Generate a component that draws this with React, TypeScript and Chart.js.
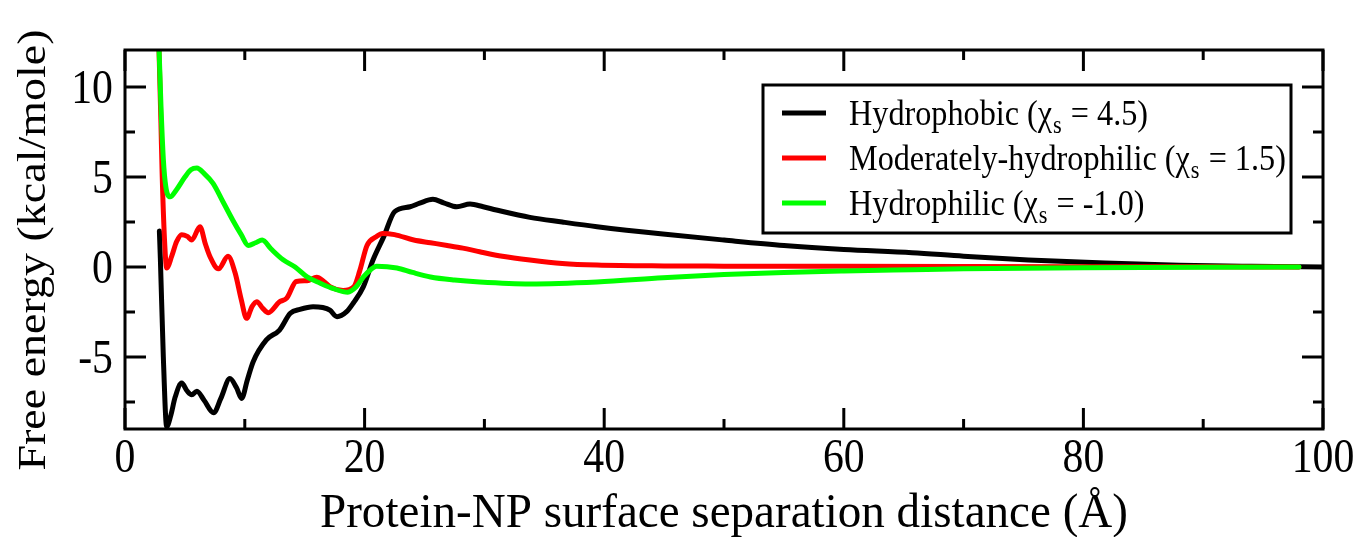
import React, { useEffect, useRef } from "react";
import { Chart, registerables } from "chart.js";

Chart.register(...registerables);

// ---------- data ----------
const xMajorTicks = [0, 20, 40, 60, 80, 100];
const xMinorTicks = [10, 30, 50, 70, 90];
const yMajorTicks = [-5, 0, 5, 10];
const yMinorTicks = [-7.5, -2.5, 2.5, 7.5];
const xTickLabels = ["0", "20", "40", "60", "80", "100"];
const yTickLabels = ["-5", "0", "5", "10"];

const seriesNames = ["Hydrophobic", "Moderately-hydrophilic", "Hydrophilic"];
const chiValues = ["4.5", "1.5", "-1.0"];
const seriesColors = ["#000000", "#ff0000", "#00ff00"];

const hydrophobicX = [
  2.87, 2.95, 3.2, 3.48, 3.8, 4.2, 4.73, 5.2, 5.57, 6.0, 6.6, 7.4, 8.0, 8.76, 9.3, 9.74,
  10.2, 10.7, 11.8, 12.9, 13.8, 14.6, 15.7, 16.5, 17.1, 17.7, 18.5, 19.06, 19.9, 20.7,
  21.6, 22.5, 23.8, 24.6, 25.7, 26.6, 27.7, 28.8, 29.9, 31.0, 33.8, 36.5, 39.4, 44.9,
  50, 55, 60, 65.7, 70, 75.4, 81.8, 88, 94, 100,
];
const hydrophobicY = [
  2.0, 0.5, -5.0, -8.87, -8.3, -7.2, -6.45, -6.9, -7.1, -6.9, -7.4, -8.1, -7.3, -6.2, -6.7, -7.3,
  -6.3, -5.26, -4.05, -3.5, -2.57, -2.35, -2.2, -2.25, -2.4, -2.76, -2.48, -2.0, -1.09, 0.39,
  1.69, 3.07, 3.35, 3.55, 3.76, 3.57, 3.35, 3.5, 3.35, 3.17, 2.76, 2.5, 2.24, 1.83,
  1.5, 1.2, 0.98, 0.8, 0.6, 0.39, 0.22, 0.1, 0.04, 0.0,
];

const moderateX = [
  2.8, 3.0, 3.1, 3.3, 3.48, 3.9, 4.3, 4.73, 5.2, 5.57, 6.26, 6.7, 7.1, 7.8, 8.6, 9.2, 9.7,
  10.15, 10.6, 11.0, 11.5, 11.96, 12.9, 13.5, 14.3, 15.2, 16.0, 16.6, 17.1, 18.2, 19.1,
  19.6, 20.2, 21.0, 21.5, 22.5, 24.1, 25.5, 26.9, 28.2, 29.6, 31.5, 33.8, 36.5, 39.4,
  45, 50, 60, 70, 80, 90, 98,
];
const moderateY = [
  13, 8, 5.2, 1.5, -0.05, 0.6, 1.4, 1.8, 1.7, 1.5, 2.24, 1.3, 0.57, -0.1, 0.6, -0.35, -1.8,
  -2.85, -2.2, -1.93, -2.3, -2.54, -1.93, -1.73, -0.8, -0.76, -0.57, -0.8, -1.09, -1.3, -1.1,
  -0.2, 1.2, 1.7, 1.87, 1.8, 1.5, 1.35, 1.2, 1.05, 0.85, 0.6, 0.39, 0.2, 0.11,
  0.06, 0.05, 0.04, 0.03, 0.02, 0.01, 0.0,
];

const hydrophilicX = [
  2.8, 3.0, 3.2, 3.4, 3.76, 4.3, 5.0, 5.5, 6.0, 6.6, 7.35, 8.2, 9.0, 9.7, 10.3, 10.9, 11.45,
  12.2, 13.2, 14.2, 15.2, 16.3, 17.4, 18.6, 19.3, 19.9, 20.5, 21.0, 22.7, 24, 25.5, 27.5,
  29.6, 33.8, 39.4, 44.9, 50, 55, 60, 65.7, 70, 80, 90, 98,
];
const hydrophilicY = [
  13, 9, 6, 4.5, 3.9, 4.3, 5.0, 5.4, 5.5, 5.2, 4.65, 3.6, 2.6, 1.8, 1.2, 1.35, 1.5,
  1.0, 0.4, 0.0, -0.55, -0.9, -1.2, -1.4, -1.1, -0.55, -0.15, 0.05, -0.05, -0.3, -0.55, -0.72,
  -0.83, -0.94, -0.83, -0.6, -0.42, -0.3, -0.22, -0.15, -0.1, -0.04, -0.01, 0,
];

const xTitle = "Protein-NP surface separation distance (Å)";
const yTitle = "Free energy (kcal/mole)";

// ---------- helpers ----------
const FONT = '"Liberation Serif", "Times New Roman", serif';
const CONDENSE = 0.87;
const LEGEND_CONDENSE = 0.895;

function pts(xs: number[], ys: number[]) {
  return xs.map((x, i) => ({ x, y: ys[i] }));
}

function drawText(
  ctx: CanvasRenderingContext2D,
  text: string,
  x: number,
  y: number,
  size: number,
  align: "left" | "center" | "right",
  sx: number = CONDENSE
) {
  ctx.save();
  ctx.font = `${size}px ${FONT}`;
  ctx.textBaseline = "alphabetic";
  ctx.textAlign = "left";
  const w = ctx.measureText(text).width * sx;
  let left = x;
  if (align === "center") left = x - w / 2;
  if (align === "right") left = x - w;
  ctx.translate(left, y);
  ctx.scale(sx, 1);
  ctx.fillStyle = "#000";
  ctx.fillText(text, 0, 0);
  ctx.restore();
  return w;
}

const framePlugin = {
  id: "xmgraceFrame",
  afterDraw(chart: any) {
    const ctx: CanvasRenderingContext2D = chart.ctx;
    const { left, right, top, bottom } = chart.chartArea;
    const xs = chart.scales.x;
    const ys = chart.scales.y;
    ctx.save();
    ctx.strokeStyle = "#000";
    ctx.lineWidth = 3;
    ctx.lineCap = "butt";
    ctx.strokeRect(left, top, right - left, bottom - top);

    const major = 21;
    const minor = 10;
    ctx.beginPath();
    const vt = (vals: number[], len: number) => {
      vals.forEach((v) => {
        const px = xs.getPixelForValue(v);
        ctx.moveTo(px, bottom);
        ctx.lineTo(px, bottom - len);
        ctx.moveTo(px, top);
        ctx.lineTo(px, top + len);
      });
    };
    const ht = (vals: number[], len: number) => {
      vals.forEach((v) => {
        const py = ys.getPixelForValue(v);
        ctx.moveTo(left, py);
        ctx.lineTo(left + len, py);
        ctx.moveTo(right, py);
        ctx.lineTo(right - len, py);
      });
    };
    vt(xMajorTicks, major);
    vt(xMinorTicks, minor);
    ht(yMajorTicks, major);
    ht(yMinorTicks, minor);
    ctx.stroke();

    // tick labels
    xMajorTicks.forEach((v, i) => {
      drawText(ctx, xTickLabels[i], xs.getPixelForValue(v), bottom + 43, 48, "center");
    });
    yMajorTicks.forEach((v, i) => {
      drawText(ctx, yTickLabels[i], left - 12, ys.getPixelForValue(v) + 16, 48, "right");
    });

    // axis titles
    ctx.font = `48px ${FONT}`;
    const tw = ctx.measureText(xTitle).width;
    const sxTitle = 808 / tw;
    drawText(ctx, xTitle, (left + right) / 2, 527, 48, "center", sxTitle);

    ctx.save();
    ctx.font = `46px ${FONT}`;
    ctx.textAlign = "center";
    ctx.textBaseline = "alphabetic";
    ctx.fillStyle = "#000";
    ctx.translate(45, 250);
    ctx.scale(CONDENSE, 1);
    ctx.rotate(-Math.PI / 2);
    ctx.fillText(yTitle, 0, 0);
    ctx.restore();

    // legend
    const bx = 763, by = 85, bw = 528, bh = 148;
    ctx.fillStyle = "#fff";
    ctx.fillRect(bx, by, bw, bh);
    ctx.lineWidth = 3;
    ctx.strokeStyle = "#000";
    ctx.strokeRect(bx, by, bw, bh);
    const rowY = [113, 158, 203];
    seriesNames.forEach((name, i) => {
      const y = rowY[i];
      ctx.beginPath();
      ctx.lineWidth = 5;
      ctx.strokeStyle = seriesColors[i];
      ctx.moveTo(782, y);
      ctx.lineTo(826, y);
      ctx.stroke();
      let x = 849;
      const base = y + 12;
      x += drawText(ctx, `${name} (χ`, x, base, 36, "left", LEGEND_CONDENSE);
      x += drawText(ctx, "s", x + 1, base + 8, 25, "left", LEGEND_CONDENSE) + 2;
      drawText(ctx, ` = ${chiValues[i]})`, x, base, 36, "left", LEGEND_CONDENSE);
    });
    ctx.restore();
  },
};

export default function App() {
  const ref = useRef<HTMLCanvasElement | null>(null);
  useEffect(() => {
    if (!ref.current) return;
    const common = {
      borderWidth: 5,
      pointRadius: 0,
      pointHoverRadius: 0,
      fill: false,
      cubicInterpolationMode: "monotone" as const,
      borderJoinStyle: "round" as const,
      borderCapStyle: "round" as const,
      clip: 0,
    };
    const chart = new Chart(ref.current, {
      type: "line",
      data: {
        datasets: [
          { ...common, label: seriesNames[0], data: pts(hydrophobicX, hydrophobicY), borderColor: seriesColors[0], order: 3 },
          { ...common, label: seriesNames[1], data: pts(moderateX, moderateY), borderColor: seriesColors[1], order: 2 },
          { ...common, label: seriesNames[2], data: pts(hydrophilicX, hydrophilicY), borderColor: seriesColors[2], order: 1 },
        ],
      },
      options: {
        responsive: false,
        animation: false,
        devicePixelRatio: 1,
        layout: { padding: { left: 125, right: 40, top: 50, bottom: 108 } },
        scales: {
          x: { type: "linear", min: 0, max: 100, display: false },
          y: { type: "linear", min: -9, max: 12.06, display: false },
        },
        plugins: {
          legend: { display: false },
          tooltip: { enabled: false },
        },
      },
      plugins: [framePlugin],
    });
    return () => chart.destroy();
  }, []);
  return (
    <div style={{ position: "fixed", left: 0, top: 0, width: 1363, height: 537, background: "#fff" }}>
      <canvas ref={ref} width={1363} height={537} style={{ display: "block" }} />
    </div>
  );
}
